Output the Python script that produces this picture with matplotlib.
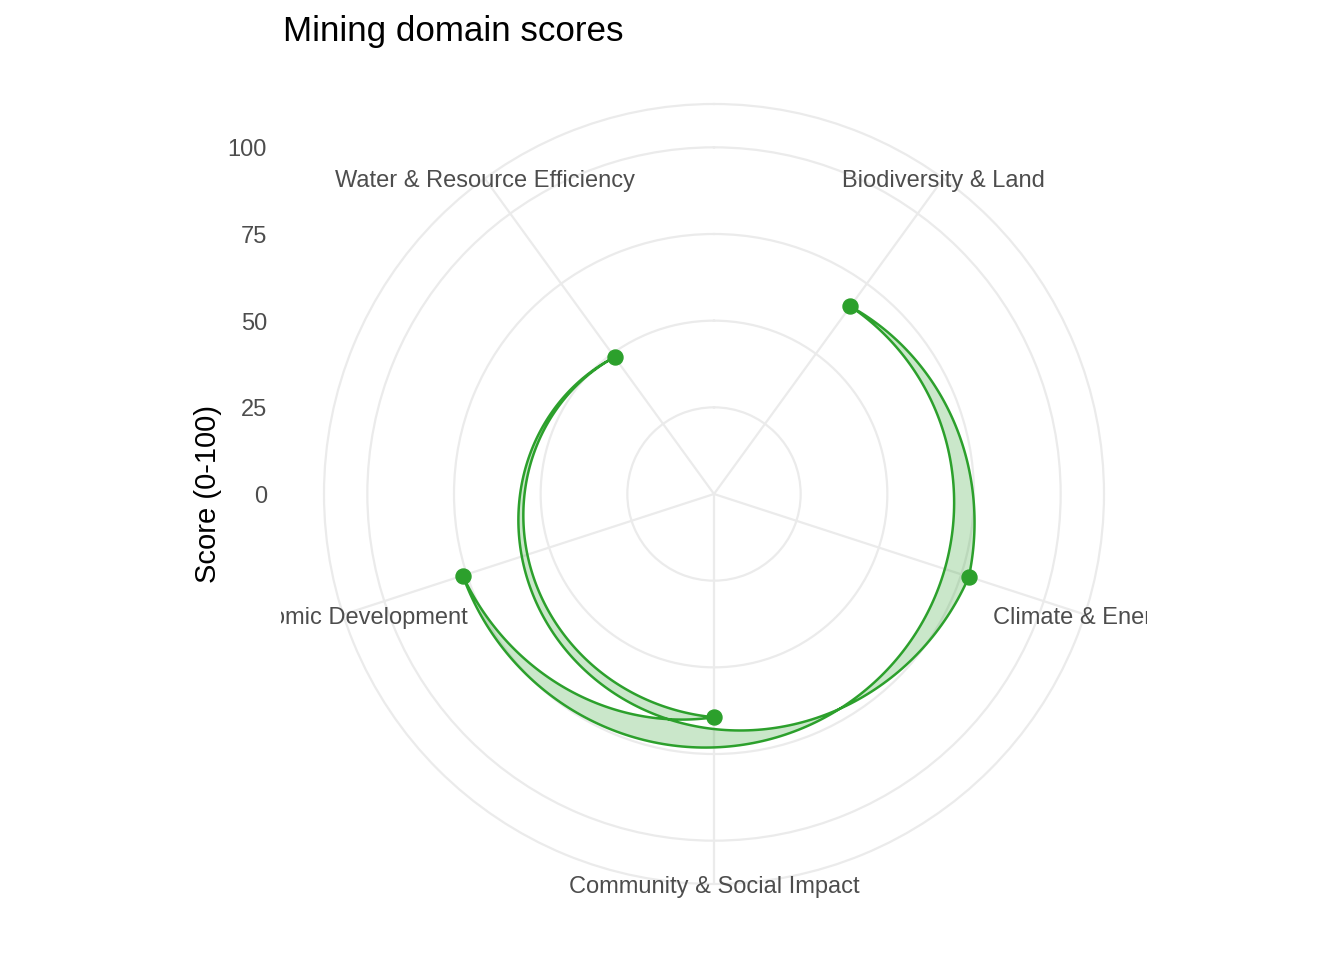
import numpy as np
import matplotlib
matplotlib.use("Agg")
import matplotlib.pyplot as plt
from matplotlib.transforms import Bbox, TransformedBbox, offset_copy

plt.rcParams['font.family'] = ['Liberation Sans', 'DejaVu Sans']

# domains in axis (factor) order, clockwise from the top
domains = ["Biodiversity & Land", "Climate & Energy", "Community & Social Impact",
           "Economic Development", "Water & Resource Efficiency"]
scores = [66.9, 77.3, 64.4, 76.2, 48.8]

# order of the rows in the data frame, which is the order the polygon is drawn in
row_order = ["Biodiversity & Land", "Climate & Energy", "Water & Resource Efficiency",
             "Community & Social Impact", "Economic Development"]

r_ticks = [0, 25, 50, 75, 100]

green = '#2CA02C'
grid_col = '#EBEBEB'

n = len(domains)
theta = (np.arange(n) + 0.5) * 2 * np.pi / n
pos = {d: i for i, d in enumerate(domains)}

fig = plt.figure(figsize=(13.44, 9.6), dpi=100)
ax = fig.add_axes([324 / 1344, 76 / 960, 780 / 1344, 780 / 960], projection='polar')
ax.set_theta_zero_location('N')
ax.set_theta_direction(-1)
ax.set_ylim(0, 112.5)
ax.set_xticks(theta)
ax.set_xticklabels([])
ax.set_yticks(r_ticks[1:])
ax.set_yticklabels([])
ax.tick_params(length=0)
ax.grid(color=grid_col, linewidth=1.6)
ax.spines['polar'].set_color(grid_col)
ax.spines['polar'].set_linewidth(1.6)

# polygon drawn in data space, so edges become spirals like coord_polar
t_path = [theta[pos[d]] for d in row_order]
r_path = [scores[pos[d]] for d in row_order]
t_path = t_path + [t_path[0], t_path[0]]
r_path = r_path + [r_path[0], r_path[0]]
poly, = ax.fill(t_path, r_path, facecolor=(0.173, 0.627, 0.173, 0.25),
                edgecolor=green, linewidth=1.8, zorder=2)
poly.get_path()._interpolation_steps = 200

ax.plot(theta, scores, 'o', color=green, markersize=10.8, zorder=3, clip_on=False)

# theta labels, clipped to the panel like ggplot
panel = TransformedBbox(Bbox.from_extents(281 / 1344, 34 / 960, 1147 / 1344, 898 / 960),
                        fig.transFigure)
theta_tr = offset_copy(ax.transData, fig=fig, x=0, y=-3, units='dots')
for t, d in zip(theta, domains):
    txt = ax.text(t, 112.5, d, transform=theta_tr, ha='center', va='center',
                  fontsize=17, color='#4D4D4D', clip_on=True)
    txt.set_clip_path(None)
    txt.set_clip_box(panel)

# radial labels on the left side
lab_tr = offset_copy(ax.transData, fig=fig, x=-447, y=-3, units='dots')
for v in r_ticks:
    ax.text(0, v, str(v), transform=lab_tr, ha='right', va='center',
            fontsize=17, color='#4D4D4D', clip_on=False)

fig.text(208 / 1344, 1 - 494 / 960, 'Score (0-100)', rotation=90,
         ha='center', va='center', fontsize=21)
fig.text(283 / 1344, 1 - 41 / 960, 'Mining domain scores', ha='left',
         va='baseline', fontsize=25.2)

fig.savefig('out.png', dpi=100)
